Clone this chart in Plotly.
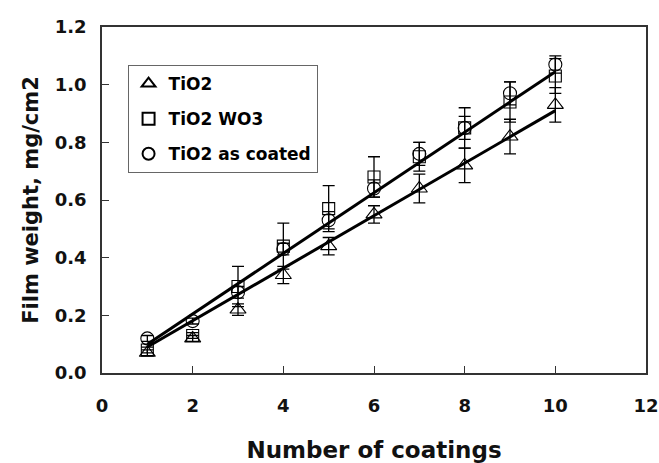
import plotly.graph_objects as go

coatings = [1, 2, 3, 4, 5, 6, 7, 8, 9, 10]
tio2 = [0.07, 0.12, 0.22, 0.34, 0.44, 0.55, 0.64, 0.72, 0.82, 0.93]
tio2_err = [0.01, 0.01, 0.02, 0.03, 0.03, 0.03, 0.05, 0.06, 0.06, 0.06]
tio2_wo3 = [0.08, 0.13, 0.30, 0.44, 0.57, 0.68, 0.75, 0.85, 0.94, 1.03]
tio2_wo3_err = [0.01, 0.01, 0.07, 0.08, 0.08, 0.07, 0.05, 0.07, 0.07, 0.06]
tio2_coated = [0.12, 0.18, 0.28, 0.43, 0.53, 0.64, 0.76, 0.85, 0.97, 1.07]
tio2_coated_err = [0.01, 0.01, 0.02, 0.02, 0.03, 0.03, 0.04, 0.04, 0.04, 0.03]

fit_x = [1, 10]
fit_upper = [0.10, 1.045]
fit_lower = [0.09, 0.91]

fig = go.Figure()

def add_series(y, err, name, symbol, size):
    fig.add_trace(go.Scatter(
        x=coatings, y=y, name=name, mode="markers", legendgroup=name,
        marker=dict(symbol=symbol, size=size, color="black",
                    line=dict(color="black", width=1.1)),
        error_y=dict(type="data", array=err, visible=True, color="black",
                     thickness=1.3, width=6),
    ))

add_series(tio2, tio2_err, "TiO2", "triangle-up-open", 14)
add_series(tio2_wo3, tio2_wo3_err, "TiO2 WO3", "square-open", 12)
add_series(tio2_coated, tio2_coated_err, "TiO2 as coated", "circle-open", 13)

for fy in (fit_upper, fit_lower):
    fig.add_trace(go.Scatter(x=fit_x, y=fy, mode="lines",
                             line=dict(color="black", width=3),
                             showlegend=False, hoverinfo="skip"))

font = "DejaVu Sans, sans-serif"
fig.update_layout(
    width=659, height=463,
    margin=dict(l=102, r=13, t=27, b=90),
    paper_bgcolor="white", plot_bgcolor="white",
    font=dict(family=font, color="black", size=16),
    showlegend=True,
    legend=dict(x=0.047, y=0.89, xanchor="left", yanchor="top",
                bordercolor="#666666", borderwidth=1, bgcolor="white",
                font=dict(family=font, size=17, color="black", weight="bold"),
                itemsizing="constant", tracegroupgap=10, itemwidth=30),
)
fig.update_xaxes(
    range=[0, 12], tickvals=[0, 2, 4, 6, 8, 10, 12], ticks="inside",
    ticklen=7, tickwidth=1.3, tickcolor="#333333", automargin=False,
    showline=True, linecolor="#333333", linewidth=1.5, mirror=True,
    showgrid=False, zeroline=False, ticklabelstandoff=16,
    tickfont=dict(family=font, size=18, weight="bold", color="#111111"),
    title=dict(text="Number of coatings", standoff=30,
               font=dict(family=font, size=23, weight="bold", color="#111111")),
)
fig.update_yaxes(
    range=[0, 1.2], tickvals=[0, 0.2, 0.4, 0.6, 0.8, 1.0, 1.2],
    tickformat=".1f", ticks="inside", automargin=False,
    ticklen=7, tickwidth=1.3, tickcolor="#333333",
    showline=True, linecolor="#333333", linewidth=1.5, mirror=True,
    showgrid=False, zeroline=False, ticklabelstandoff=10,
    tickfont=dict(family=font, size=18, weight="bold", color="#111111"),
    title=dict(text="Film weight, mg/cm2", standoff=10,
               font=dict(family=font, size=21, weight="bold", color="#111111")),
)

fig.write_html("out.html")
